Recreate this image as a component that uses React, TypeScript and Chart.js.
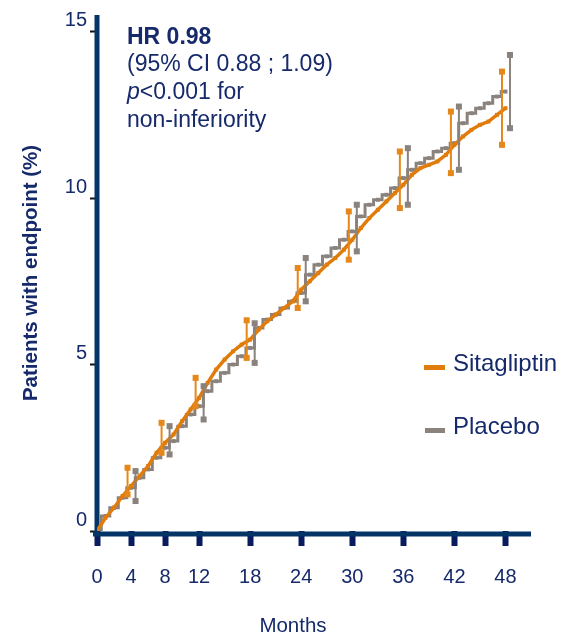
import React, { useEffect, useRef } from "react";
import { Chart, registerables } from "chart.js";

Chart.register(...registerables);

// ---- data ----
const months = [
  0, 1, 2, 3, 4, 5, 6, 7, 8, 9, 10, 11, 12, 13, 14, 15, 16, 17, 18, 19, 20, 21, 22, 23, 24,
  25, 26, 27, 28, 29, 30, 31, 32, 33, 34, 35, 36, 37, 38, 39, 40, 41, 42, 43, 44, 45, 46, 47, 48,
];
const sitagliptin = [
  0, 0.4, 0.7, 1.05, 1.35, 1.65, 1.95, 2.35, 2.65, 2.9, 3.3, 3.65, 4.0, 4.45, 4.85, 5.15, 5.4,
  5.6, 5.75, 6.05, 6.3, 6.5, 6.7, 6.9, 7.25, 7.5, 7.75, 8.0, 8.2, 8.45, 8.75, 9.1, 9.4, 9.65,
  9.9, 10.15, 10.4, 10.7, 10.9, 11.0, 11.1, 11.3, 11.6, 11.85, 12.05, 12.2, 12.3, 12.5, 12.7,
];
const placebo = [
  0, 0.45, 0.7, 1.0, 1.3, 1.6, 1.85, 2.2, 2.5, 2.7, 3.15, 3.5, 3.75, 4.2, 4.5, 4.75, 5.0, 5.25,
  5.5, 6.1, 6.35, 6.5, 6.7, 6.9, 7.15, 7.7, 8.0, 8.25, 8.5, 8.75, 9.0, 9.45, 9.8, 9.95, 10.1,
  10.3, 10.6, 10.85, 11.05, 11.2, 11.4, 11.5, 11.65, 12.25, 12.55, 12.7, 12.85, 13.05, 13.2,
];
const errMonths = [4, 8, 12, 18, 24, 30, 36, 42, 48];
const sitaLow = [1.1, 2.35, 3.75, 5.2, 6.7, 8.15, 9.7, 10.75, 11.6];
const sitaHigh = [1.9, 3.25, 4.6, 6.33, 7.9, 9.6, 11.4, 12.6, 13.8];
const placLow = [0.9, 2.3, 3.35, 5.05, 6.9, 8.4, 9.8, 10.85, 12.1];
const placHigh = [1.8, 3.15, 4.35, 6.24, 8.2, 9.8, 11.5, 12.75, 14.3];
const xTicks = [0, 4, 8, 12, 18, 24, 30, 36, 42, 48];
const yTicks = [0, 5, 10, 15];
const seriesNames = ["Sitagliptin", "Placebo"];
const xTitle = "Months";
const yTitle = "Patients with endpoint (%)";
const noteLines = ["HR 0.98", "(95% CI 0.88 ; 1.09)", "<0.001 for", "non-inferiority"];

// ---- style ----
const FONT = "'Liberation Sans', Arial, Helvetica, sans-serif";
const NAVY = "#15296b";
const AXIS = "#053466";
const TICK = "#0a1a5e";
const ORANGE = "#e07c0c";
const GRAY = "#8a827c";

export default function App() {
  const ref = useRef<HTMLCanvasElement>(null);

  useEffect(() => {
    const canvas = ref.current;
    if (!canvas) return;

    const decor = {
      id: "decor",
      beforeDatasetsDraw(chart: any) {
        const ctx = chart.ctx;
        const { left, right, top, bottom } = chart.chartArea;
        ctx.save();
        ctx.fillStyle = AXIS;
        ctx.fillRect(left - 2.5, top, 5, bottom - top + 5);
        ctx.fillRect(left - 4, bottom + 0.5, right - left + 4, 5);
        ctx.restore();
      },
      afterDatasetsDraw(chart: any) {
        const ctx = chart.ctx;
        const xs = chart.scales.x;
        const ys = chart.scales.y;
        const bars = (lo: number[], hi: number[], color: string, dx: number) => {
          ctx.save();
          ctx.strokeStyle = color;
          ctx.fillStyle = color;
          ctx.lineWidth = 2;
          errMonths.forEach((m, i) => {
            const px = xs.getPixelForValue(m) + dx;
            const y1 = ys.getPixelForValue(hi[i]);
            const y2 = ys.getPixelForValue(lo[i]);
            ctx.beginPath();
            ctx.moveTo(px, y1);
            ctx.lineTo(px, y2);
            ctx.stroke();
            ctx.fillRect(px - 3, y1 - 3, 6, 6);
            ctx.fillRect(px - 3, y2 - 3, 6, 6);
          });
          ctx.restore();
        };
        bars(placLow, placHigh, GRAY, 4.5);
        bars(sitaLow, sitaHigh, "#e5871a", -3.5);
      },
      afterDraw(chart: any) {
        const ctx = chart.ctx;
        ctx.save();
        ctx.fillStyle = NAVY;
        ctx.textBaseline = "alphabetic";
        ctx.textAlign = "left";
        ctx.font = `bold 23px ${FONT}`;
        ctx.fillText(noteLines[0], 127, 44);
        ctx.font = `23px ${FONT}`;
        ctx.fillText(noteLines[1], 127, 71);
        ctx.font = `italic 23px ${FONT}`;
        ctx.fillText("p", 127, 99);
        const pw = ctx.measureText("p").width;
        ctx.font = `23px ${FONT}`;
        ctx.fillText(noteLines[2], 127 + pw, 99);
        ctx.fillText(noteLines[3], 127, 127);
        // legend
        ctx.fillStyle = ORANGE;
        ctx.fillRect(424, 365, 21, 5);
        ctx.fillStyle = GRAY;
        ctx.fillRect(425, 428, 20, 5);
        ctx.fillStyle = NAVY;
        ctx.font = `24px ${FONT}`;
        ctx.fillText(seriesNames[0], 453, 371);
        ctx.fillText(seriesNames[1], 453, 434);
        // x title
        ctx.textAlign = "center";
        ctx.font = `20.5px ${FONT}`;
        ctx.fillText(xTitle, 293, 632);
        ctx.restore();
      },
    };

    const chart = new Chart(canvas, {
      type: "line",
      data: {
        labels: months,
        datasets: [
          {
            label: seriesNames[0],
            data: months.map((m, i) => ({ x: m, y: sitagliptin[i] })),
            borderColor: ORANGE,
            backgroundColor: ORANGE,
            borderWidth: 3.5,
            pointStyle: "rect",
            pointRadius: 2.8,
            pointBorderWidth: 0,
          },
          {
            label: seriesNames[1],
            data: months.map((m, i) => ({ x: m, y: placebo[i] })),
            borderColor: GRAY,
            backgroundColor: GRAY,
            borderWidth: 3,
            pointStyle: "rect",
            pointRadius: 2.8,
            pointBorderWidth: 0,
            stepped: "middle",
          },
        ],
      },
      options: {
        responsive: false,
        animation: false,
        devicePixelRatio: 1,
        layout: { padding: { left: 0, right: 38, top: 12, bottom: 0 } },
        plugins: { legend: { display: false }, tooltip: { enabled: false } },
        scales: {
          x: {
            type: "linear",
            min: 0,
            max: 51,
            border: { display: false },
            grid: {
              drawOnChartArea: false,
              drawTicks: true,
              tickLength: 15,
              tickWidth: 6,
              color: TICK,
            },
            ticks: {
              autoSkip: false,
              maxRotation: 0,
              padding: 19,
              color: NAVY,
              font: { family: FONT, size: 20 },
            },
            afterBuildTicks: (s: any) => {
              s.ticks = xTicks.map((v) => ({ value: v }));
            },
            afterFit: (s: any) => {
              s.height = 106;
            },
          },
          y: {
            type: "linear",
            min: 0,
            max: 15.5,
            border: { display: false },
            grid: {
              drawOnChartArea: false,
              drawTicks: true,
              tickLength: 7,
              tickWidth: 2,
              color: "#111111",
            },
            ticks: {
              padding: 3,
              labelOffset: -11,
              color: NAVY,
              font: { family: FONT, size: 20 },
            },
            afterBuildTicks: (s: any) => {
              s.ticks = yTicks.map((v) => ({ value: v }));
            },
            afterFit: (s: any) => {
              s.width = 97;
            },
            title: {
              display: true,
              text: yTitle,
              color: NAVY,
              font: { family: FONT, size: 20.5, weight: "bold" },
              padding: { top: 19, bottom: 0 },
            },
          },
        },
      },
      plugins: [decor],
    });

    return () => chart.destroy();
  }, []);

  return (
    <div style={{ position: "fixed", left: 0, top: 0, width: 569, height: 637 }}>
      <canvas ref={ref} width={569} height={637} style={{ display: "block", width: 569, height: 637 }} />
    </div>
  );
}
